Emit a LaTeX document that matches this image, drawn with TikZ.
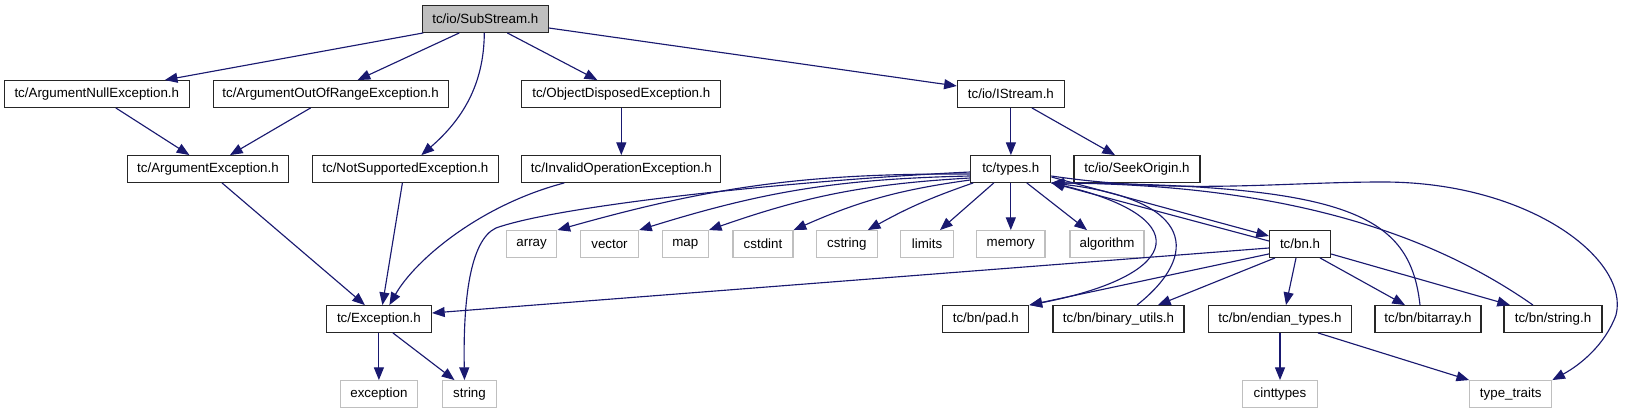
\documentclass[tikz,border=0pt]{standalone}
\usepackage{fontspec}
\setmainfont{Liberation Sans}
\usetikzlibrary{arrows.meta,calc}
\definecolor{edgec}{RGB}{25,25,112}
\definecolor{lgray}{RGB}{191,191,191}
\begin{document}
\begin{tikzpicture}[x=0.75pt,y=-0.75pt,
  nd/.style={draw=black!85,line width=0.9pt,inner sep=0pt,minimum height=20pt,font=\fontsize{10}{12}\selectfont,anchor=center},
  sysnd/.style={nd,draw=lgray},
  rootnd/.style={nd,fill=lgray},
  nw/.style={minimum width=#1*0.75pt},
  dep/.style={draw=edgec,line width=0.85pt,-{Triangle[length=9.5pt,width=7.5pt]}},
]
\useasboundingbox (0,0) rectangle (1626,413);
% row 0
\node[rootnd,nw=126] (ss) at (485.3,19) {tc/io/SubStream.h};
% row 1
\node[nd,nw=185] (an) at (96.8,94) {tc/ArgumentNullException.h};
\node[nd,nw=235] (aoor) at (330.6,94) {tc/ArgumentOutOfRangeException.h};
\node[nd,nw=199] (od) at (621.3,94) {tc/ObjectDisposedException.h};
\node[nd,nw=107] (is) at (1010.9,94) {tc/io/IStream.h};
% row 2
\node[nd,nw=161] (ae) at (208,169) {tc/ArgumentException.h};
\node[nd,nw=185.5] (ns) at (405.4,169) {tc/NotSupportedException.h};
\node[nd,nw=199] (io) at (621.3,169) {tc/InvalidOperationException.h};
\node[nd,nw=80] (ty) at (1010.8,169) {tc/types.h};
\node[nd,nw=126] (so) at (1137,169) {tc/io/SeekOrigin.h};
% row 3
\node[sysnd,nw=50.5] (arr) at (531.6,244) {array};
\node[sysnd,nw=58] (vec) at (609.5,244) {vector};
\node[sysnd,nw=46] (map) at (685.3,244) {map};
\node[sysnd,nw=60] (cstdint) at (763,244) {cstdint};
\node[sysnd,nw=61] (cstring) at (846.8,244) {cstring};
\node[sysnd,nw=53] (limits) at (927,244) {limits};
\node[sysnd,nw=68.5] (memory) at (1010.8,244) {memory};
\node[sysnd,nw=74] (algorithm) at (1107,244) {algorithm};
\node[nd,nw=61] (bn) at (1300,244) {tc/bn.h};
% row 4
\node[nd,nw=105] (exc) at (378.9,319) {tc/Exception.h};
\node[nd,nw=86] (pad) at (985.8,319) {tc/bn/pad.h};
\node[nd,nw=131] (bu) at (1118.5,319) {tc/bn/binary\_utils.h};
\node[nd,nw=142.5] (et) at (1280,319) {tc/bn/endian\_types.h};
\node[nd,nw=106] (ba) at (1428,319) {tc/bn/bitarray.h};
\node[nd,nw=98] (str) at (1553,319) {tc/bn/string.h};
% row 5
\node[sysnd,nw=77] (stdexc) at (378.9,394) {exception};
\node[sysnd,nw=54] (stdstr) at (469.5,394) {string};
\node[sysnd,nw=75] (cint) at (1280,394) {cinttypes};
\node[sysnd,nw=82] (tt) at (1510.7,394) {type\_traits};
% edges from SubStream
\draw[dep] ($(ss.south)+(-62,0)$) -- ($(an.north)+(68,0)$);
\draw[dep] ($(ss.south)+(-26,0)$) -- ($(aoor.north)+(27,0)$);
\draw[dep] ($(ss.south)+(-1,0)$) .. controls (484,85) and (462,120) .. ($(ns.north)+(16,0)$);
\draw[dep] ($(ss.south)+(22,0)$) -- ($(od.north)+(-24,0)$);
\draw[dep] ($(ss.east)+(0,9)$) -- ($(is.west)+(0,-8)$);
% exceptions
\draw[dep] ($(an.south)+(19,0)$) -- ($(ae.north)+(-18.6,0)$);
\draw[dep] ($(aoor.south)+(-20,0)$) -- ($(ae.north)+(22,0)$);
\draw[dep] (od.south) -- (io.north);
\draw[dep] ($(ae.south)+(14,0)$) -- ($(exc.north)+(-14,0)$);
\draw[dep] ($(ns.south)+(-3,0)$) -- ($(exc.north)+(3.5,0)$);
\draw[dep] ($(io.south)+(-57,0)$) .. controls (480,205) and (415,260) .. ($(exc.north)+(10.5,0)$);
\draw[dep] (exc.south) -- (stdexc.north);
\draw[dep] ($(exc.south)+(14,0)$) -- ($(stdstr.north)+(-15,0)$);
% IStream
\draw[dep] (is.south) -- (is.south |- ty.north);
\draw[dep] ($(is.south)+(21,0)$) -- ($(so.north)+(-22,0)$);
% types.h fan
\draw[dep] ($(ty.west)+(0,3)$) .. controls (800,180) and (560,205) .. (496,228) .. controls (470,240) and (463,300) .. ($(stdstr.north)+(-5,0)$);
\draw[dep] ($(ty.west)+(0,5)$) to[bend right=8] (arr.north east);
\draw[dep] ($(ty.west)+(0,7)$) to[bend right=8] (vec.north east);
\draw[dep] ($(ty.west)+(0,9)$) to[bend right=8] (map.north east);
\draw[dep] ($(ty.west)+(0,11)$) to[bend right=8] (cstdint.north east);
\draw[dep] ($(ty.south west)+(3,0)$) to[bend right=5] ($(cstring.north)+(21,0)$);
\draw[dep] ($(ty.south)+(-17,0)$) -- ($(limits.north)+(13,0)$);
\draw[dep] (ty.south) -- (memory.north);
\draw[dep] ($(ty.south)+(16,0)$) -- ($(algorithm.north)+(-20,0)$);
\draw[dep] ($(ty.east)+(0,8)$) -- ($(bn.west)+(0,-8)$);
\draw[dep] ($(bn.west)+(0,-3)$) -- (ty.south east);
\draw[dep] (ty.south east) .. controls (1200,215) and (1185,275) .. (pad.north east);
\draw[dep] ($(bu.north)+(18.5,0)$) .. controls (1200,255) and (1195,200) .. (ty.south east);
\draw[dep] ($(ba.north)+(-8,0)$) .. controls (1410,215) and (1350,185) .. (ty.south east);
\draw[dep] ($(str.north)+(-20,0)$) .. controls (1440,240) and (1300,185) .. (ty.south east);
\draw[dep] ($(ty.east)+(0,7)$) .. controls (1180,195) and (1280,182) .. (1383,182) .. controls (1530,182) and (1630,260) .. (1616,315) .. controls (1605,345) and (1580,365) .. (tt.north east);
% bn.h
\draw[dep] ($(bn.west)+(0,4)$) -- ($(exc.east)+(0,-6)$);
\draw[dep] ($(bn.south west)+(0,-4)$) -- (pad.north east);
\draw[dep] ($(bn.south)+(-25,0)$) -- ($(bu.north)+(39.5,0)$);
\draw[dep] ($(bn.south)+(-4,0)$) -- ($(et.north)+(6,0)$);
\draw[dep] ($(bn.south)+(20,0)$) -- ($(ba.north)+(-23,0)$);
\draw[dep] ($(bn.east)+(0,10)$) -- ($(str.north)+(-43,0)$);
% endian
\draw[dep] (et.south) -- (cint.north);
\draw[dep] ($(et.south)+(38,0)$) -- (tt.north west);
\end{tikzpicture}
\end{document}
